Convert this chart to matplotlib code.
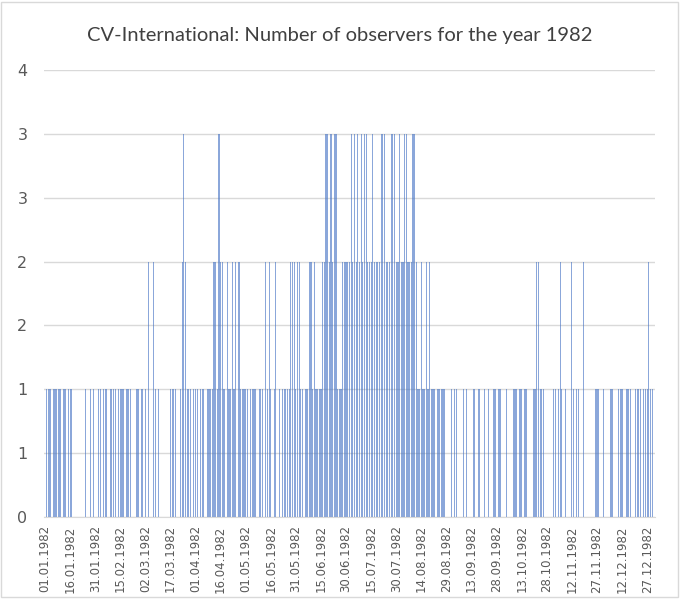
import numpy as np
import pandas as pd
import matplotlib
matplotlib.use("Agg")
import matplotlib.pyplot as plt
from matplotlib.patches import Rectangle

# observers per day, one string of digits per month
jan = "0111011111011011100000001001010"
feb = "0110111011110111101110001101"
mar = "0102002101000000111100123211101"
apr = "110111011112213221021121202111"
may = "1101111011102121012010111112221"
jun = "221101122121111223323233111222"
jul = "2232323232332223222233322233"  + "322"
aug = "3223322233211211212111011111000"
sep = "101100010100011011001010011011"
oct_ = "0001000111011011000112211100000"
nov = "110121010002101100200000011100"
dec = "1000110001110011100111101112110"

months = [jan, feb, mar, apr, may, jun, jul, aug, sep, oct_, nov, dec]
observers = [int(c) for m in months for c in m]

days = pd.date_range("1982-01-01", "1982-12-31", freq="D")
n = len(days)
observers = (observers + [0] * n)[:n]

fig = plt.figure(figsize=(6.8, 5.99), dpi=100)
ax = fig.add_axes([0.0647, 0.1369, 0.8983, 0.7462])

x = np.arange(n)
ax.bar(x, observers, width=0.7, color="#4472C4", alpha=0.62, linewidth=0)

ax.set_xlim(-0.6, n - 0.4)
ax.set_ylim(0, 3.5)
yt = np.arange(0, 3.51, 0.5)
ax.set_yticks(yt)
ax.set_yticklabels([str(int(v + 0.5)) for v in yt])
ax.yaxis.grid(True, color="#D9D9D9", linewidth=1)
ax.set_axisbelow(True)

tick_pos = np.arange(0, n, 15)
ax.set_xticks(tick_pos)
ax.set_xticklabels([days[i].strftime("%d.%m.%Y") for i in tick_pos], rotation=90)

for s in ["left", "right", "top"]:
    ax.spines[s].set_visible(False)
ax.spines["bottom"].set_color("#D9D9D9")
ax.tick_params(axis="both", length=0, colors="#595959")
ax.tick_params(axis="y", labelsize=11.5, pad=12)
ax.tick_params(axis="x", labelsize=8.5, pad=6)

fig.text(0.5, 0.940, "CV-International: Number of observers for the year 1982",
         ha="center", va="center", fontsize=14.5, color="#404040", family="Lato")

fig.patches.append(Rectangle((0.002, 0.004), 0.995, 0.993, transform=fig.transFigure,
                             fill=False, edgecolor="#D9D9D9", linewidth=1))

fig.savefig("out.png", dpi=100)
